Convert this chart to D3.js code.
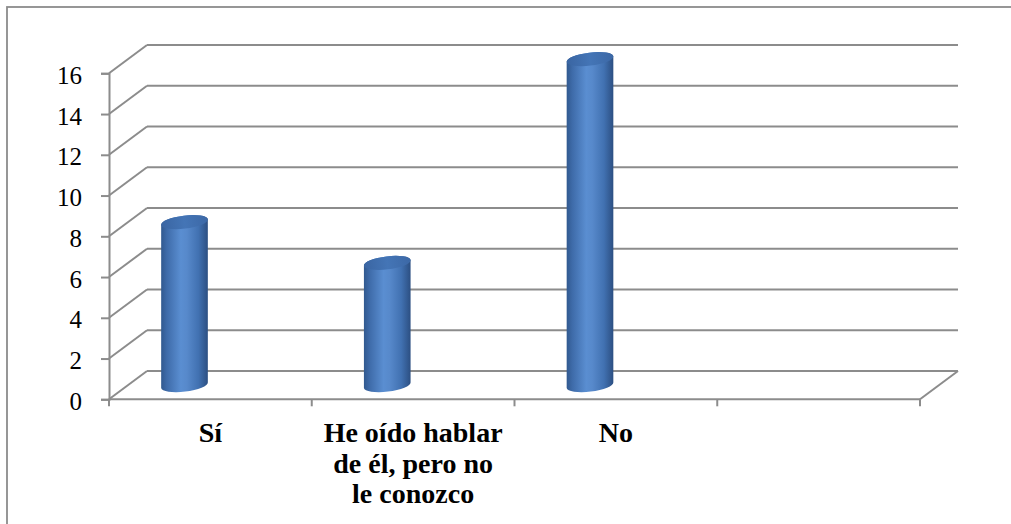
<!DOCTYPE html>
<html>
<head>
<meta charset="utf-8">
<script src="https://cdn.jsdelivr.net/npm/d3@7"></script>
<style>
  html, body { margin: 0; padding: 0; background: #fff; }
  svg { display: block; }
</style>
</head>
<body>
<svg id="chart" width="1011" height="524"></svg>
<script>
// Category labels (one entry per slot on the floor; the last slot is empty)
const categories = ["Sí", "He oído hablar de él, pero no le conozco", "No", ""];
// Label lines as they wrap under each category
const categoryLines = [["Sí"], ["He oído hablar", "de él, pero no", "le conozco"], ["No"], []];
// Counts per category
const values = [8, 6, 16, null];
// Value axis ticks
const yTicks = [0, 2, 4, 6, 8, 10, 12, 14, 16];

const svg = d3.select("#chart");
const W = 1011, H = 524;

// 3D projection: offset from front plane to back wall
const DX = 38, DY = -28.3;

const x = d3.scaleBand().domain(d3.range(categories.length)).range([109, 920]).paddingInner(0).paddingOuter(0);
const y = d3.scaleLinear().domain([0, 16]).range([399.3, 73.3]);

const gridColor = "#8c8c8c";

// Outer chart frame
svg.append("rect")
  .attr("x", 7).attr("y", 7)
  .attr("width", W + 10).attr("height", H + 10)
  .attr("fill", "none").attr("stroke", gridColor).attr("stroke-width", 1.8);

const defs = svg.append("defs");
const body = defs.append("linearGradient").attr("id", "cylBody")
  .attr("x1", "0").attr("x2", "1").attr("y1", "0").attr("y2", "0");
[[0, "#31598f"], [0.12, "#3e6ba9"], [0.42, "#5a8ed1"], [0.55, "#5789cb"], [0.8, "#4171b1"], [1, "#2c4f82"]]
  .forEach(([o, c]) => body.append("stop").attr("offset", o).attr("stop-color", c));
const cap = defs.append("linearGradient").attr("id", "cylCap")
  .attr("x1", "0").attr("x2", "1").attr("y1", "0").attr("y2", "0");
[[0, "#3a65a2"], [0.5, "#4475b6"], [1, "#3c68a6"]]
  .forEach(([o, c]) => cap.append("stop").attr("offset", o).attr("stop-color", c));

const grid = svg.append("g").attr("stroke", gridColor).attr("stroke-width", 2).attr("fill", "none");

const x0 = x.range()[0], x1 = x.range()[1];

// Back wall gridlines and side wall diagonals
yTicks.forEach(t => {
  const yf = y(t);
  grid.append("line").attr("x1", x0 + DX).attr("x2", x1 + DX).attr("y1", yf + DY).attr("y2", yf + DY);
  grid.append("line").attr("x1", x0).attr("x2", x0 + DX).attr("y1", yf).attr("y2", yf + DY);
});
// Floor front edge and right diagonal
grid.append("line").attr("x1", x0).attr("x2", x1).attr("y1", y(0)).attr("y2", y(0));
grid.append("line").attr("x1", x1).attr("x2", x1 + DX).attr("y1", y(0)).attr("y2", y(0) + DY);

// Category tick marks at slot boundaries
const bounds = d3.range(categories.length + 1).map(i => x0 + i * x.bandwidth());
grid.selectAll(".ctick").data(bounds).enter().append("line")
  .attr("x1", d => d).attr("x2", d => d)
  .attr("y1", y(0)).attr("y2", y(0) + 7);

// Value axis
const yAxis = d3.axisLeft(y).tickValues(yTicks).tickSize(8).tickPadding(19).tickFormat(d3.format("d"));
const ag = svg.append("g").attr("transform", `translate(${x0},0)`).call(yAxis);
ag.attr("font-family", "'Liberation Serif', serif");
ag.select(".domain").attr("stroke", gridColor).attr("stroke-width", 2);
ag.selectAll(".tick line").attr("stroke", gridColor).attr("stroke-width", 2);
ag.selectAll(".tick text")
  .attr("font-family", "'Liberation Serif', serif")
  .attr("font-size", 25).attr("fill", "#000").attr("dy", "0.4em");

// Cylinders, standing at mid depth within each slot
const rx = 23.5, ry = 6.5, rot = -7;
const rad = rot * Math.PI / 180;
const ex = rx * Math.cos(rad), ey = rx * Math.sin(rad);
const cyl = svg.append("g");
values.forEach((v, i) => {
  if (v == null) return;
  const cx = x(i) + 75.5;
  const midShift = DY / 2;
  const ct = y(v) + midShift;
  const cb = y(0) + midShift;
  const path = `M${cx - ex},${ct - ey} L${cx - ex},${cb - ey} ` +
    `A${rx},${ry} ${rot} 0 0 ${cx + ex},${cb + ey} ` +
    `L${cx + ex},${ct + ey} ` +
    `A${rx},${ry} ${rot} 0 0 ${cx - ex},${ct - ey} Z`;
  cyl.append("path").attr("d", path).attr("fill", "url(#cylBody)");
  cyl.append("ellipse")
    .attr("cx", cx).attr("cy", ct).attr("rx", rx).attr("ry", ry)
    .attr("transform", `rotate(${rot},${cx},${ct})`)
    .attr("fill", "url(#cylCap)");
});

// Category labels
const lab = svg.append("g")
  .attr("font-family", "'Liberation Serif', serif")
  .attr("font-weight", "bold").attr("font-size", 28).attr("fill", "#000")
  .attr("text-anchor", "middle");
categoryLines.forEach((lines, i) => {
  const t = lab.append("text").attr("x", x(i) + x.bandwidth() / 2).attr("y", 442);
  lines.forEach((ln, k) => {
    t.append("tspan").attr("x", x(i) + x.bandwidth() / 2).attr("dy", k === 0 ? 0 : 30.5).text(ln);
  });
});
</script>
</body>
</html>
